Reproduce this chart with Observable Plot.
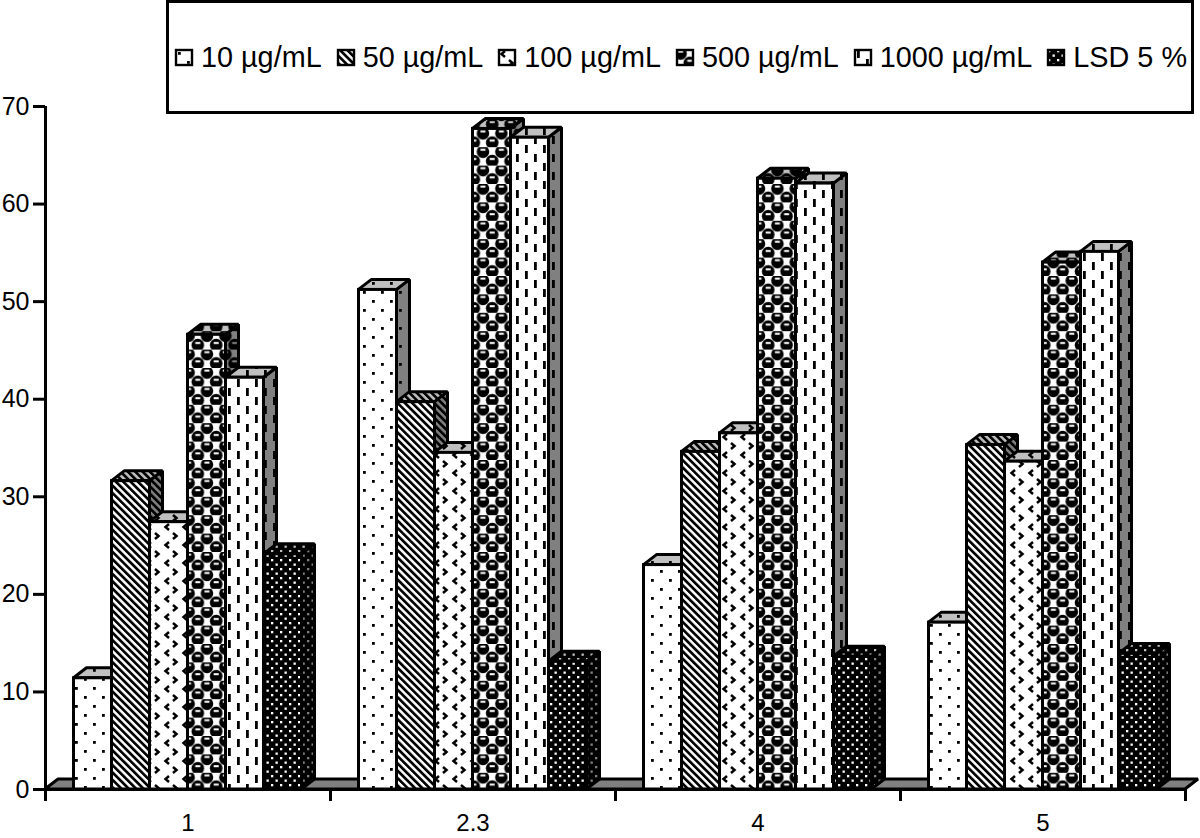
<!DOCTYPE html>
<html>
<head>
<meta charset="utf-8">
<script src="https://cdn.jsdelivr.net/npm/d3@7"></script>
<script src="https://cdn.jsdelivr.net/npm/@observablehq/plot@0.6"></script>
<style>
html,body{margin:0;padding:0;background:#fff;color:#000;font-family:"Liberation Sans",Arial,sans-serif;}
#wrap{position:relative;width:1200px;height:838px;overflow:hidden;}
#chart svg{display:block;position:absolute;left:0;top:0;}
#legend{position:absolute;left:166px;top:0;width:1028px;height:114px;border:3px solid #000;background:#fff;box-sizing:border-box;
 display:flex;align-items:center;font-size:28.8px;padding-left:6px;gap:15px;white-space:nowrap;}
#legend .item{display:flex;align-items:center;gap:8px;}
#legend svg{display:block;overflow:visible;}
</style>
</head>
<body>
<div id="wrap">
<div id="chart"></div>
<div id="legend"></div>
</div>
<script>
const categories = ["1", "2.3", "4", "5"];
const seriesNames = ["10 µg/mL", "50 µg/mL", "100 µg/mL", "500 µg/mL", "1000 µg/mL", "LSD 5 %"];
const seriesKeys = ["c10", "c50", "c100", "c500", "c1000", "lsd"];
const values10 = [11.4, 51.2, 23.0, 17.1];
const values50 = [31.6, 39.7, 34.6, 35.3];
const values100 = [27.4, 34.5, 36.5, 33.6];
const values500 = [46.6, 67.7, 62.6, 54.0];
const values1000 = [42.2, 66.8, 62.1, 55.1];
const valuesLsd = [24.1, 13.1, 13.6, 13.9];
const yTicks = [0, 10, 20, 30, 40, 50, 60, 70];
const seriesValues = [values10, values50, values100, values500, values1000, valuesLsd];

// tile artwork for each hatch; t is the tone of the "paper" behind the ink
const tiles = {
  c10: t => ({w: 18, h: 18, body: `<rect width="18" height="18" fill="${t}"/>
    <rect x="3" y="3" width="2.8" height="2.8"/><rect x="12" y="12" width="2.8" height="2.8"/>`}),
  c50: t => ({w: 5.2, h: 5.2, tf: "rotate(-45)", body: `<rect width="5.2" height="5.2" fill="${t}"/><rect width="2.7" height="5.2"/>`}),
  c100: t => ({w: 18, h: 18, body: `<rect width="18" height="18" fill="${t}"/>
    <path d="M7 2 L3.5 5 L7 8" fill="none" stroke="#000" stroke-width="2.5"/>
    <path d="M11 11 L14.5 14 L11 17" fill="none" stroke="#000" stroke-width="2.5"/>`}),
  c500: t => ({w: 18.4, h: 18.4, body: `<rect width="18.4" height="18.4" fill="${t}"/>
    <circle cx="4.6" cy="4.6" r="6.3"/><circle cx="13.8" cy="13.8" r="6.3"/>
    <circle cx="23" cy="4.6" r="6.3"/><circle cx="-4.6" cy="13.8" r="6.3"/>
    <rect x="2.1" y="1.6" width="5" height="2" fill="${t}"/><rect x="11.3" y="10.8" width="5" height="2" fill="${t}"/>`}),
  c1000: t => ({w: 18, h: 18, body: `<rect width="18" height="18" fill="${t}"/>
    <rect x="3" y="1" width="2.8" height="8"/><rect x="12" y="10" width="2.8" height="8"/>`}),
  lsd: t => ({w: 9, h: 9, body: `<rect width="9" height="9" fill="#000"/>
    <rect x="1" y="1" width="2.3" height="2.3" fill="${t}"/><rect x="5.5" y="5.5" width="2.3" height="2.3" fill="${t}"/>`})
};
const tones = {front: "#ffffff", top: "#c0c0c0", side: "#808080"};
const patternDefs = seriesKeys.flatMap(k => Object.entries(tones).map(([name, tone]) => {
  const p = tiles[k](tone);
  return `<pattern id="${k}-${name}" patternUnits="userSpaceOnUse" width="${p.w}" height="${p.h}"${p.tf ? ` patternTransform="${p.tf}"` : ""}>${p.body}</pattern>`;
})).join("");

const barW = 38 / 285, pad = 28.5 / 285, DX = 13 / 285, DY = 10 / 9.757, SW = 3;
const edge = {stroke: "#000", strokeWidth: SW, strokeLinejoin: "miter"};

const barMarks = categories.flatMap((c, i) => seriesKeys.flatMap((k, j) => {
  const v = seriesValues[j][i];
  const x0 = i + pad + j * barW, x1 = x0 + barW;
  return [
    Plot.areaY([{x: x1, y1: 0, y2: v}, {x: x1 + DX, y1: DY, y2: v + DY}],
      {x: "x", y1: "y1", y2: "y2", fill: `url(#${k}-side)`, ...edge}),
    Plot.areaX([{y: v, x1: x0, x2: x1}, {y: v + DY, x1: x0 + DX, x2: x1 + DX}],
      {y: "y", x1: "x1", x2: "x2", fill: `url(#${k}-top)`, ...edge}),
    Plot.rect([{x1: x0, x2: x1, y1: 0, y2: v}],
      {x1: "x1", x2: "x2", y1: "y1", y2: "y2", fill: `url(#${k}-front)`, ...edge})
  ];
}));

const chart = Plot.plot({
  width: 1200, height: 838,
  marginLeft: 45, marginRight: 15, marginTop: 106, marginBottom: 49,
  style: {background: "transparent", fontFamily: "'Liberation Sans', Arial, sans-serif", overflow: "visible", color: "#000"},
  x: {domain: [0, categories.length], axis: null},
  y: {domain: [0, 70], axis: null},
  marks: [
    Plot.areaX([{y: 0, x1: 0, x2: categories.length}, {y: DY, x1: DX, x2: categories.length + DX}],
      {y: "y", x1: "x1", x2: "x2", fill: "#808080", ...edge}),
    ...barMarks,
    Plot.ruleX([0], {y1: 0, y2: 70, stroke: "#000", strokeWidth: SW}),
    Plot.ruleY([0], {x1: 0, x2: categories.length, stroke: "#000", strokeWidth: SW}),
    Plot.axisY({ticks: yTicks, tickSize: 12, tickPadding: 4, strokeWidth: SW, fontSize: 25, label: null, tickFormat: d => String(d)}),
    Plot.axisX({ticks: d3.range(0, categories.length + 1), tickSize: 12, strokeWidth: SW, tickFormat: () => "", label: null}),
    Plot.axisX({ticks: categories.map((c, i) => i + 0.5), tickSize: 0, tickPadding: 24, fontSize: 24, label: null,
      tickFormat: d => categories[Math.floor(d)]})
  ]
});
chart.insertAdjacentHTML("afterbegin", `<defs>${patternDefs}</defs>`);
document.getElementById("chart").appendChild(chart);

const legend = d3.select("#legend");
seriesKeys.forEach((k, j) => {
  const item = legend.append("div").attr("class", "item");
  const s = item.append("svg").attr("width", 18).attr("height", 17);
  s.append("rect").attr("x", 1).attr("y", 1).attr("width", 16).attr("height", 15)
    .attr("fill", `url(#${k}-front)`).attr("stroke", "#000").attr("stroke-width", 2.4);
  item.append("span").text(seriesNames[j]);
});
</script>
</body>
</html>
